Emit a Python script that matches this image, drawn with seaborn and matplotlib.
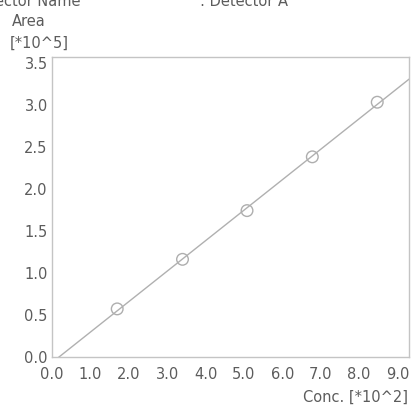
import numpy as np
import pandas as pd
import matplotlib
matplotlib.use("Agg")
import matplotlib.pyplot as plt
import seaborn as sns

# Calibration standards: concentration [*10^2] vs peak area [*10^5]
conc = [1.70, 3.40, 5.08, 6.78, 8.47]
area = [0.57, 1.16, 1.74, 2.38, 3.03]
x_ticks = [0.0, 1.0, 2.0, 3.0, 4.0, 5.0, 6.0, 7.0, 8.0, 9.0]
y_ticks = [0.0, 0.5, 1.0, 1.5, 2.0, 2.5, 3.0, 3.5]

df = pd.DataFrame({"Conc": conc, "Area": area})

sns.set_theme(style="white")
plt.rcParams["font.family"] = ["DejaVu Sans"]

txt = "#5c5c5c"
fs = 10.5
fig = plt.figure(figsize=(4.12, 4.12), dpi=100)
ax = fig.add_axes([0.126, 0.134, 0.867, 0.728])

# limits first so the untruncated fit line spans the whole axis
ax.set_xlim(0, 9.3)
ax.set_ylim(0, 3.57)
sns.regplot(data=df, x="Conc", y="Area", ax=ax, ci=None, truncate=False,
            scatter_kws=dict(s=70, facecolors="none", edgecolors="#9a9a9a",
                             linewidths=1.0),
            line_kws=dict(color="#b0b0b0", lw=1.0))
ax.set_xlim(0, 9.3)
ax.set_ylim(0, 3.57)

ax.set_xticks(x_ticks)
ax.set_xticklabels([f"{v:.1f}" for v in x_ticks])
ax.set_yticks(y_ticks)
ax.set_yticklabels([f"{v:.1f}" for v in y_ticks])
ax.tick_params(axis="both", length=0, labelsize=fs, colors=txt)
ax.tick_params(axis="x", pad=7)
ax.tick_params(axis="y", pad=3)
ax.set_xlabel("")
ax.set_ylabel("")
for s in ax.spines.values():
    s.set_color("#c4c4c4")
    s.set_linewidth(1.0)

fig.text(0.028, 0.948, "Area", fontsize=fs, color=txt, ha="left", va="center")
fig.text(0.024, 0.896, "[*10^5]", fontsize=fs, color=txt, ha="left", va="center")
fig.text(0.99, 0.035, "Conc. [*10^2]", fontsize=fs, color=txt, ha="right", va="center")
fig.text(0.195, 0.997, "Detector Name", fontsize=fs, color=txt, ha="right", va="center")
fig.text(0.485, 0.997, ": Detector A", fontsize=fs, color=txt, ha="left", va="center")

fig.savefig("out.png", dpi=100)
